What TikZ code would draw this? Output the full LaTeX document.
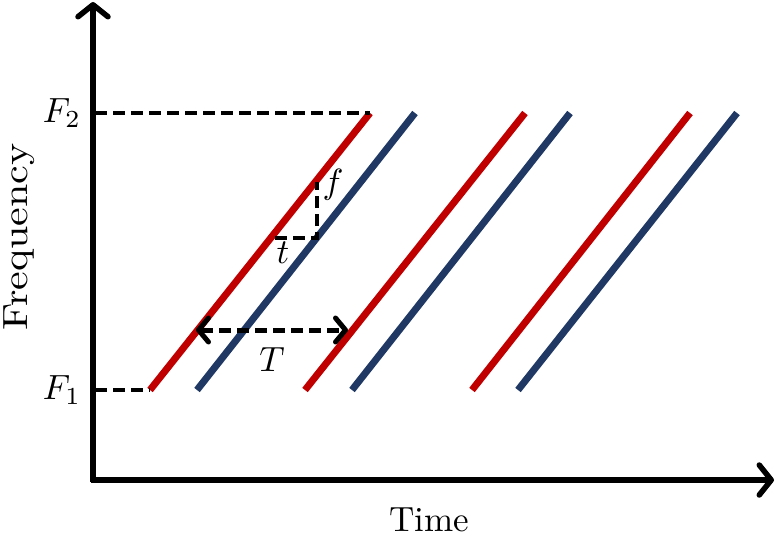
\documentclass[tikz,border=0pt]{standalone}
\usetikzlibrary{arrows.meta}
\definecolor{chirpred}{HTML}{C00000}
\definecolor{chirpblue}{HTML}{1F3864}
\begin{document}
\begin{tikzpicture}[x=1pt,y=-1pt,
  axis/.style={line width=5.5pt,-{Straight Barb[length=12pt,width=30pt,round]}},
  guide/.style={line width=4.5pt,dash pattern=on 12pt off 6pt},
  chirpA/.style={line width=7pt,chirpred},
  chirpB/.style={line width=7pt,chirpblue},
  lbl/.style={font=\fontsize{10}{12}\selectfont,inner sep=0pt,scale=3.5},
  per/.style={line width=5pt,dash pattern=on 12pt off 6pt,{Straight Barb[length=10pt,width=24pt,round]}-{Straight Barb[length=10pt,width=24pt,round]}}]
\useasboundingbox (0,0) rectangle (776,539);
% axes
\coordinate (o) at (93,482);
\coordinate (ytop) at (93,2);
\coordinate (xend) at (774,480);
\coordinate (ob) at (91,480);
\draw[axis] (o) -- (ytop);
\draw[axis] (ob) -- (xend);
% chirps
\coordinate (r1a) at (150,390); \coordinate (r1b) at (370,113);
\coordinate (b1a) at (197,390); \coordinate (b1b) at (415,113);
\coordinate (r2a) at (305,390); \coordinate (r2b) at (525,113);
\coordinate (b2a) at (352,390); \coordinate (b2b) at (570,113);
\coordinate (r3a) at (472,390); \coordinate (r3b) at (690,113);
\coordinate (b3a) at (518,390); \coordinate (b3b) at (737,113);
\draw[chirpA] (r1a) -- (r1b);
\draw[chirpB] (b1a) -- (b1b);
\draw[chirpA] (r2a) -- (r2b);
\draw[chirpB] (b2a) -- (b2b);
\draw[chirpA] (r3a) -- (r3b);
\draw[chirpB] (b3a) -- (b3b);
% guides
\coordinate (f2l) at (95,113);
\coordinate (f1l) at (95,390);
\draw[guide] (f2l) -- (r1b);
\draw[guide] (f1l) -- (r1a);
\coordinate (ta) at (275,238);
\coordinate (tb) at (317,238);
\coordinate (tc) at (317,182);
\draw[guide] (ta) -- (tb) -- (tc);
% period
\coordinate (pa) at (196,330);
\coordinate (pb) at (348,330);
\draw[per] (pa) -- (pb);
% labels
\node[lbl] (F2) at (62,113) {$F_2$};
\node[lbl] (F1) at (62,390) {$F_1$};
\node[lbl] (tl) at (283,253) {$t$};
\node[lbl] (fl) at (333,185) {$f$};
\node[lbl] (Tl) at (272,360) {$T$};
\node[lbl] (time) at (429,520) {Time};
\node[font=\fontsize{10}{12}\selectfont,inner sep=0pt,rotate=90,xscale=4.2,yscale=3.5] (freq) at (19,237) {Frequency};
\end{tikzpicture}
\end{document}
